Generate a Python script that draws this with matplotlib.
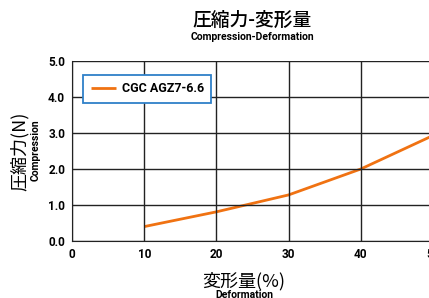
import matplotlib
matplotlib.use("Agg")
import matplotlib.pyplot as plt

# data
deformation = [10, 20, 30, 40, 50]
compression = [0.40, 0.81, 1.28, 2.00, 2.93]
series_name = "CGC AGZ7-6.6"
x_ticks = [0, 10, 20, 30, 40, 50]
y_ticks = [0.0, 1.0, 2.0, 3.0, 4.0, 5.0]

plt.rcParams['font.family'] = ['Roboto', 'Noto Sans CJK JP', 'DejaVu Sans']
cjk = ['Noto Sans CJK JP', 'DejaVu Sans']

fig = plt.figure(figsize=(4.29, 2.98), dpi=100)
ax = fig.add_axes([72 / 429, 1 - 241 / 298, (433 - 72) / 429, (241 - 61) / 298])

ax.plot(deformation, compression, color='#f07212', lw=2, label=series_name,
        solid_capstyle='butt')

ax.set_xlim(0, 50)
ax.set_ylim(0, 5)
ax.set_xticks(x_ticks)
ax.set_yticks(y_ticks)
ax.set_xticklabels([str(t) for t in x_ticks], fontsize=8.5, fontweight='bold')
ax.set_yticklabels([f"{t:.1f}" for t in y_ticks], fontsize=8.5, fontweight='bold')
ax.tick_params(length=0, pad=5)
ax.grid(True, color='#222222', lw=1)
ax.set_axisbelow(False)
for s in ['top', 'right']:
    ax.spines[s].set_visible(False)
for s in ['left', 'bottom']:
    ax.spines[s].set_color('#222222')

leg = ax.legend(loc='upper left', bbox_to_anchor=(11 / 361, 1 - 14 / 180),
                fancybox=False, framealpha=1, edgecolor='#2f80c8',
                prop={'size': 9, 'weight': 'bold'}, handlelength=2.0,
                handletextpad=0.5, borderpad=0.6, borderaxespad=0)
leg.get_frame().set_linewidth(1.3)

# titles and axis labels
cx = 252 / 429
fig.text(cx, 1 - 20 / 298, "圧縮力-変形量", family=cjk, fontsize=13.5,
         fontweight='medium', ha='center', va='center')
fig.text(cx, 1 - 37 / 298, "Compression-Deformation", fontsize=7.5,
         fontweight='bold', ha='center', va='center')
fig.text(20 / 429, 1 - 151 / 298, "圧縮力(N)", family=cjk, fontsize=13,
         rotation=90, ha='center', va='center')
fig.text(36 / 429, 1 - 150 / 298, "Compression", fontsize=7.5,
         fontweight='bold', rotation=90, ha='center', va='center')
fig.text(244 / 429, 1 - 281 / 298, "変形量(%)", family=cjk, fontsize=13,
         ha='center', va='center')
fig.text(244 / 429, 1 - 295 / 298, "Deformation", fontsize=7.5,
         fontweight='bold', ha='center', va='center')

fig.savefig("out.png", dpi=100)
